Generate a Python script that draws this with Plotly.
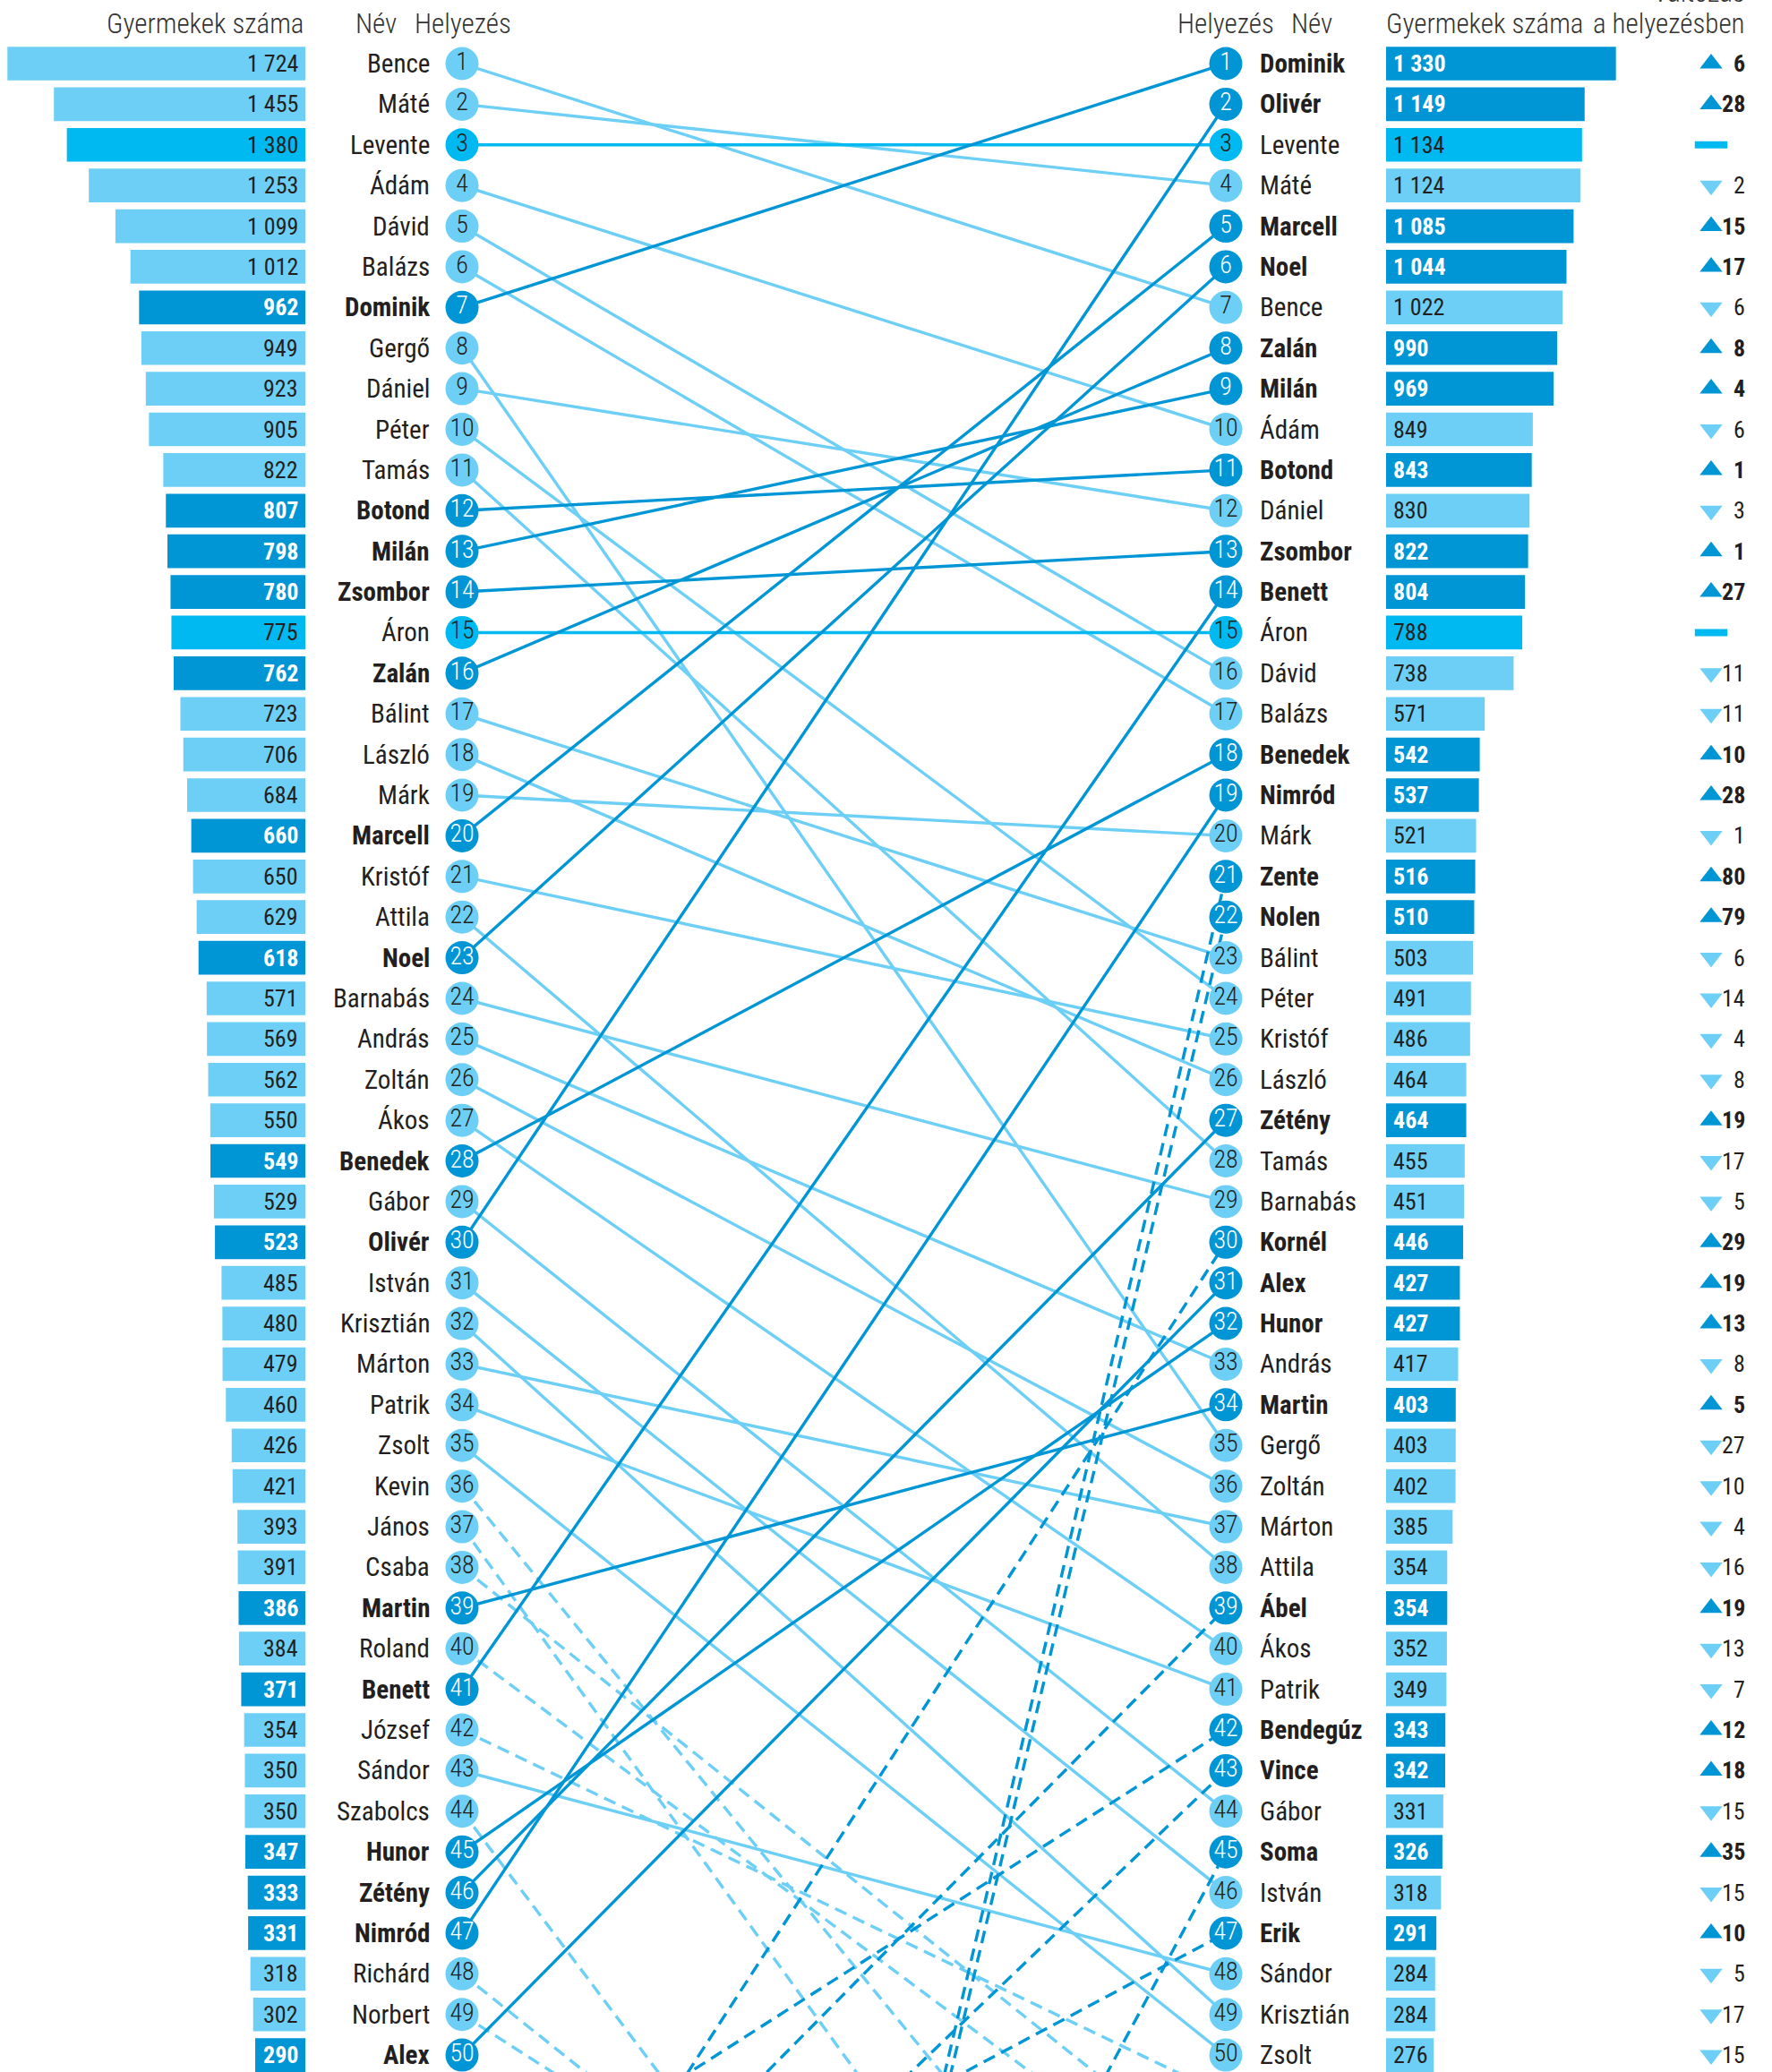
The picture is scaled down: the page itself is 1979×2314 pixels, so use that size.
import plotly.graph_objects as go

# ---------------- data ----------------
prev_names = ["Bence", "Máté", "Levente", "Ádám", "Dávid", "Balázs", "Dominik", "Gergő", "Dániel", "Péter",
              "Tamás", "Botond", "Milán", "Zsombor", "Áron", "Zalán", "Bálint", "László", "Márk", "Marcell",
              "Kristóf", "Attila", "Noel", "Barnabás", "András", "Zoltán", "Ákos", "Benedek", "Gábor", "Olivér",
              "István", "Krisztián", "Márton", "Patrik", "Zsolt", "Kevin", "János", "Csaba", "Martin", "Roland",
              "Benett", "József", "Sándor", "Szabolcs", "Hunor", "Zétény", "Nimród", "Richárd", "Norbert", "Alex"]
prev_counts = [1724, 1455, 1380, 1253, 1099, 1012, 962, 949, 923, 905,
               822, 807, 798, 780, 775, 762, 723, 706, 684, 660,
               650, 629, 618, 571, 569, 562, 550, 549, 529, 523,
               485, 480, 479, 460, 426, 421, 393, 391, 386, 384,
               371, 354, 350, 350, 347, 333, 331, 318, 302, 290]

cur_names = ["Dominik", "Olivér", "Levente", "Máté", "Marcell", "Noel", "Bence", "Zalán", "Milán", "Ádám",
             "Botond", "Dániel", "Zsombor", "Benett", "Áron", "Dávid", "Balázs", "Benedek", "Nimród", "Márk",
             "Zente", "Nolen", "Bálint", "Péter", "Kristóf", "László", "Zétény", "Tamás", "Barnabás", "Kornél",
             "Alex", "Hunor", "András", "Martin", "Gergő", "Zoltán", "Márton", "Attila", "Ábel", "Ákos",
             "Patrik", "Bendegúz", "Vince", "Gábor", "Soma", "István", "Erik", "Sándor", "Krisztián", "Zsolt"]
cur_counts = [1330, 1149, 1134, 1124, 1085, 1044, 1022, 990, 969, 849,
              843, 830, 822, 804, 788, 738, 571, 542, 537, 521,
              516, 510, 503, 491, 486, 464, 464, 455, 451, 446,
              427, 427, 417, 403, 403, 402, 385, 354, 354, 352,
              349, 343, 342, 331, 326, 318, 291, 284, 284, 276]
cur_change = [6, 28, 0, -2, 15, 17, -6, 8, 4, -6,
              1, -3, 1, 27, 0, -11, -11, 10, 28, -1,
              80, 79, -6, -14, -4, -8, 19, -17, -5, 29,
              19, 13, -8, 5, -27, -10, -4, -16, 19, -13,
              -7, 12, 18, -15, 35, -15, 10, -5, -17, -15]

# new (off-chart) ranks of names that dropped out of the top 50 (estimated from the line slopes)
dropped_names = ["Kevin", "János", "Csaba", "Roland", "József", "Szabolcs", "Richárd", "Norbert"]
dropped_ranks = [59, 63, 53, 54, 51, 69, 63, 61]

header_left = ["Gyermekek száma", "Név", "Helyezés"]
header_right = ["Helyezés", "Név", "Gyermekek száma", "a helyezésben", "Változás"]

# ---------------- style / geometry ----------------
W, H = 1979, 2314
ROW1, PITCH = 71.0, 45.39
PXU = 0.193            # pixels per child
DARK, CYAN, LIGHT, INK = "#0096d6", "#00b9f0", "#6dcff6", "#231f20"
FONT = "Roboto Condensed, Liberation Sans Narrow, Roboto, sans-serif"
FS_NAME, FS_VAL, FS_CH, FS_HEAD, FS_CIRC = 29, 26, 26, 31, 28

L_BAR_END, NAME_R, L_CIRC, R_CIRC, NAME_L, R_BAR0, R_BAR1, CH0 = 341, 482, 516, 1369, 1405, 1548, 1860, 1860

def status(ch):
    return "up" if ch > 0 else ("same" if ch == 0 else "down")

COL = {"up": DARK, "same": CYAN, "down": LIGHT}

ranks = list(range(1, 51))
cur_rank = {n: i + 1 for i, n in enumerate(cur_names)}
cur_chg = dict(zip(cur_names, cur_change))
prev_rank = {n: i + 1 for i, n in enumerate(prev_names)}
drop_rank = dict(zip(dropped_names, dropped_ranks))

prev_status = [status(cur_chg[n]) if n in cur_chg else "down" for n in prev_names]
cur_status = [status(c) for c in cur_change]

y_top = 1 - ROW1 / PITCH
y_bot = 1 + (H - ROW1) / PITCH

fig = go.Figure()

# ---------------- slope lines ----------------
segs = []
for n, s in zip(prev_names, prev_status):
    if n in cur_rank:
        segs.append((s, prev_rank[n], cur_rank[n], "solid"))
    else:
        segs.append((s, prev_rank[n], drop_rank[n], "14px,8px"))
for n, ch in zip(cur_names, cur_change):
    if n not in prev_rank:
        segs.append(("up", cur_rank[n] + ch, cur_rank[n], "14px,8px"))

order = {"down": 0, "same": 1, "up": 2}
for s, r0, r1, dash in sorted(segs, key=lambda t: order[t[0]]):
    fig.add_trace(go.Scatter(x=[0, 1], y=[r0, r1], mode="lines", xaxis="x3", yaxis="y",
                             line=dict(color=COL[s], width=3.4, dash=dash),
                             hoverinfo="skip", showlegend=False))

# ---------------- bars ----------------
fig.add_trace(go.Bar(x=prev_counts, y=ranks, orientation="h", xaxis="x", yaxis="y",
                     marker=dict(color=[COL[s] for s in prev_status], line=dict(width=0)),
                     width=0.83, hoverinfo="skip", showlegend=False))
fig.add_trace(go.Bar(x=cur_counts, y=ranks, orientation="h", xaxis="x2", yaxis="y",
                     marker=dict(color=[COL[s] for s in cur_status], line=dict(width=0)),
                     width=0.83, hoverinfo="skip", showlegend=False))

# ---------------- rank circles ----------------
for xpos, sts in ((0, prev_status), (1, cur_status)):
    fig.add_trace(go.Scatter(
        x=[xpos] * 50, y=ranks, mode="markers+text", xaxis="x3", yaxis="y",
        marker=dict(size=37, color=[COL[s] for s in sts], line=dict(width=0)),
        text=[str(r) for r in ranks], textposition="middle center",
        textfont=dict(family=FONT, size=FS_CIRC, weight=300,
                      color=["white" if s == "up" else INK for s in sts]),
        cliponaxis=False, hoverinfo="skip", showlegend=False))

# ---------------- change markers ----------------
for st, sym in (("up", "triangle-up"), ("down", "triangle-down")):
    ys = [r for r, s in zip(ranks, cur_status) if s == st]
    fig.add_trace(go.Scatter(x=[51] * len(ys), y=ys, mode="markers", xaxis="x4", yaxis="y",
                             marker=dict(symbol=sym, size=22, color=COL[st], line=dict(width=0)),
                             cliponaxis=False, hoverinfo="skip", showlegend=False))
ys = [r for r, s in zip(ranks, cur_status) if s == "same"]
fig.add_trace(go.Scatter(x=[51] * len(ys), y=ys, mode="markers", xaxis="x4", yaxis="y",
                         marker=dict(symbol="line-ew", size=26, color=CYAN, line=dict(width=8, color=CYAN)),
                         cliponaxis=False, hoverinfo="skip", showlegend=False))

# ---------------- text ----------------
def fmt(v):
    return f"{v:,}".replace(",", " ")

ann = []
for r, n, v, s in zip(ranks, prev_names, prev_counts, prev_status):
    b = s == "up"
    ann.append(dict(x=0, y=r, xref="x", yref="y", xanchor="right", xshift=-6, showarrow=False,
                    text=f"<b>{fmt(v)}</b>" if b else fmt(v),
                    font=dict(family=FONT, size=FS_VAL, color="white" if b else INK)))
    ann.append(dict(x=0, y=r, xref="x3", yref="y", xanchor="right", xshift=NAME_R - L_CIRC, showarrow=False,
                    text=f"<b>{n}</b>" if b else n, font=dict(family=FONT, size=FS_NAME, color=INK)))
for r, n, v, s, ch in zip(ranks, cur_names, cur_counts, cur_status, cur_change):
    b = s == "up"
    ann.append(dict(x=0, y=r, xref="x2", yref="y", xanchor="left", xshift=6, showarrow=False,
                    text=f"<b>{fmt(v)}</b>" if b else fmt(v),
                    font=dict(family=FONT, size=FS_VAL, color="white" if b else INK)))
    ann.append(dict(x=1, y=r, xref="x3", yref="y", xanchor="left", xshift=NAME_L - R_CIRC, showarrow=False,
                    text=f"<b>{n}</b>" if b else n, font=dict(family=FONT, size=FS_NAME, color=INK)))
    if ch != 0:
        ann.append(dict(x=91, y=r, xref="x4", yref="y", xanchor="right", showarrow=False,
                        text=f"<b>{abs(ch)}</b>" if b else str(abs(ch)),
                        font=dict(family=FONT, size=FS_CH, color=INK)))

hf = dict(family=FONT, size=FS_HEAD, color="#333333", weight=300)
hy = 1 - 26 / H
for txt, x, anchor in zip(header_left, [341, 420, 517], ["right", "center", "center"]):
    ann.append(dict(x=x / W, y=hy, xref="paper", yref="paper", xanchor=anchor, yanchor="middle",
                    showarrow=False, text=txt, font=hf))
for txt, x, anchor, yy in zip(header_right, [1369, 1440, 1546, 1951, 1951],
                              ["center", "left", "left", "right", "right"],
                              [hy, hy, hy, hy, 1 + 8 / H]):
    ann.append(dict(x=x / W, y=yy, xref="paper", yref="paper", xanchor=anchor, yanchor="middle",
                    showarrow=False, text=txt, font=hf))

ax = dict(visible=False, showgrid=False, zeroline=False, fixedrange=True)
fig.update_layout(
    width=W, height=H, margin=dict(l=0, r=0, t=0, b=0),
    paper_bgcolor="white", plot_bgcolor="rgba(0,0,0,0)",
    font=dict(family=FONT, size=FS_NAME, color=INK),
    xaxis=dict(ax, domain=[0, L_BAR_END / W], range=[L_BAR_END / PXU, 0], anchor="y"),
    xaxis2=dict(ax, domain=[R_BAR0 / W, R_BAR1 / W], range=[0, (R_BAR1 - R_BAR0) / PXU], anchor="y"),
    xaxis3=dict(ax, domain=[L_CIRC / W, R_CIRC / W], range=[0, 1], anchor="y"),
    xaxis4=dict(ax, domain=[CH0 / W, 1], range=[0, W - CH0], anchor="y"),
    yaxis=dict(ax, domain=[0, 1], range=[y_bot, y_top]),
    annotations=ann, showlegend=False, hovermode=False,
)

fig.write_html("out.html", config={"displayModeBar": False},
               post_script="document.body.style.margin='0';document.body.style.overflow='hidden';")
